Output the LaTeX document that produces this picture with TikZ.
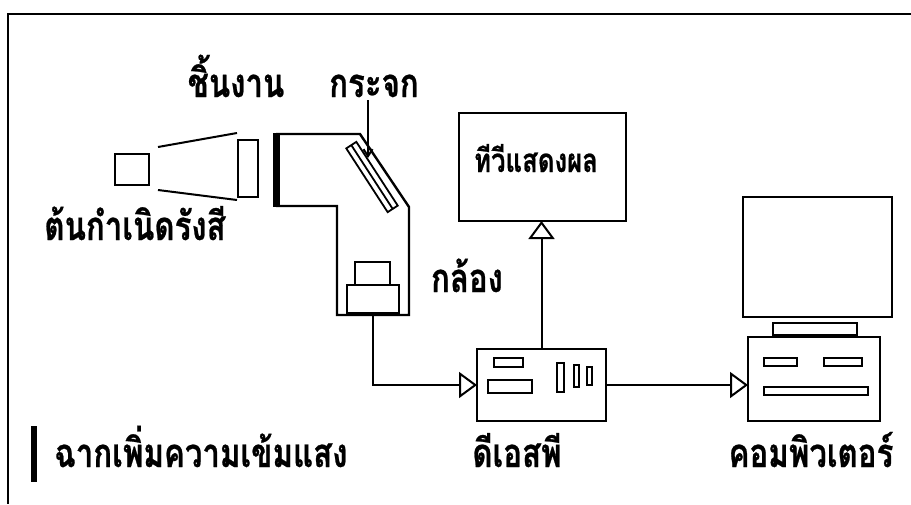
\documentclass[tikz,border=0pt]{standalone}
\usepackage{fontspec}
\newfontfamily\thaifont[Script=Thai,FakeStretch=0.78,BoldFeatures={FakeBold=0.6}]{Loma}
\usetikzlibrary{arrows.meta,calc,positioning}
\tikzset{
	part/.style={draw,line width=2.4pt,inner sep=0pt,outer sep=0pt},
	slot/.style={part,line width=2pt},
	lbl/.style={font=\thaifont\bfseries\fontsize{40}{42}\selectfont,inner sep=0pt,anchor=base},
	small lbl/.style={lbl,font=\thaifont\bfseries\fontsize{33}{35}\selectfont},
	feed/.style={line width=2pt,-{Triangle[open,length=18pt,width=26pt,line width=2pt]}},
	ptr/.style={line width=2pt,-{Straight Barb[length=7pt,width=9pt,line width=2pt]}}
}
\begin{document}
\begin{tikzpicture}[x=1pt,y=-1pt,line join=miter]
   \useasboundingbox (0,0) rectangle (911,504);
   \draw[line width=2.2pt] (911,14) -- (8,14) -- (8,504);
   % x-ray tube, beam and specimen
   \node[part,minimum width=34pt,minimum height=31pt] (src) at (132,169.5) {};
   \node[part,minimum width=20pt,minimum height=57pt] (spec) at (248,168.5) {};
   \draw[line width=2pt] (158,147) -- (237,133);
   \draw[line width=2pt] (158,190) -- (237,200);
   % image intensifier with its input screen
   \draw[line width=2.4pt] (276,134) -- (360,134) -- (409,207) -- (409,315)
      -- (337,315) -- (337,206) -- (276,206);
   \draw[line width=7pt] (276.5,133) -- (276.5,207);
   \node[part,line width=1.8pt,rotate=-57,minimum width=76pt,minimum height=12pt] (mirror) at (372,177) {};
   \draw[line width=1.8pt] ($(mirror.north west)!0.5!(mirror.south west)$)
      -- ($(mirror.north east)!0.5!(mirror.south east)$);
   \coordinate (mirrorhit) at (368,158);
   % camera
   \node[part,minimum width=35pt,minimum height=23pt] (camtop) at (372.5,273.5) {};
   \node[part,minimum width=52pt,minimum height=28pt] (cam) at (373,299) {};
   % dsp unit
   \node[part,minimum width=129pt,minimum height=72pt] (dsp) at (541.5,385) {};
   \node[slot,minimum width=29pt,minimum height=9pt] at (508.5,362.5) {};
   \node[slot,minimum width=44pt,minimum height=13pt] at (510,386.5) {};
   \node[slot,minimum width=7pt,minimum height=29pt] at (560.5,377.5) {};
   \node[slot,minimum width=5pt,minimum height=22pt] at (576.5,376) {};
   \node[slot,minimum width=5pt,minimum height=18pt] at (589.5,376) {};
   % tv monitor
   \node[part,minimum width=167pt,minimum height=108pt] (tv) at (542.5,167) {};
   % computer
   \node[part,minimum width=149pt,minimum height=120pt] (pcscreen) at (817.5,257) {};
   \node[part,minimum width=84pt,minimum height=12pt] (pcstand) at (815,329) {};
   \node[part,minimum width=132pt,minimum height=84pt] (pc) at (814,379) {};
   \node[slot,minimum width=33pt,minimum height=8pt] at (780.5,362) {};
   \node[slot,minimum width=38pt,minimum height=8pt] at (843,362) {};
   \node[slot,minimum width=104pt,minimum height=8pt] at (816,391) {};
   % screen key
   \draw[line width=6pt] (34,426) -- (34,482);
   % labels
   \node[lbl] (lblspec) at (236,97) {ชิ้นงาน};
   \node[lbl] (lblmirror) at (374,97) {กระจก};
   \node[lbl] (lblsrc) at (135,240) {ต้นกำเนิดรังสี};
   \node[lbl] (lblcam) at (467,292) {กล้อง};
   \node[small lbl] (lbltv) at (536,172) {ทีวีแสดงผล};
   \node[lbl] (lblscreen) at (201,467) {ฉากเพิ่มความเข้มแสง};
   \node[lbl] (lbldsp) at (517,467) {ดีเอสพี};
   \node[lbl] (lblpc) at (811,467) {คอมพิวเตอร์};
   % signal path
   \draw[ptr] (lblmirror.south -| mirrorhit) ++(0,3) -- (mirrorhit);
   \draw[feed] (cam.south) |- (dsp.west);
   \draw[feed] (dsp.north) -- (dsp.north |- tv.south);
   \draw[feed] (dsp.east) -- (dsp.east -| pc.west);
\end{tikzpicture}
\end{document}
